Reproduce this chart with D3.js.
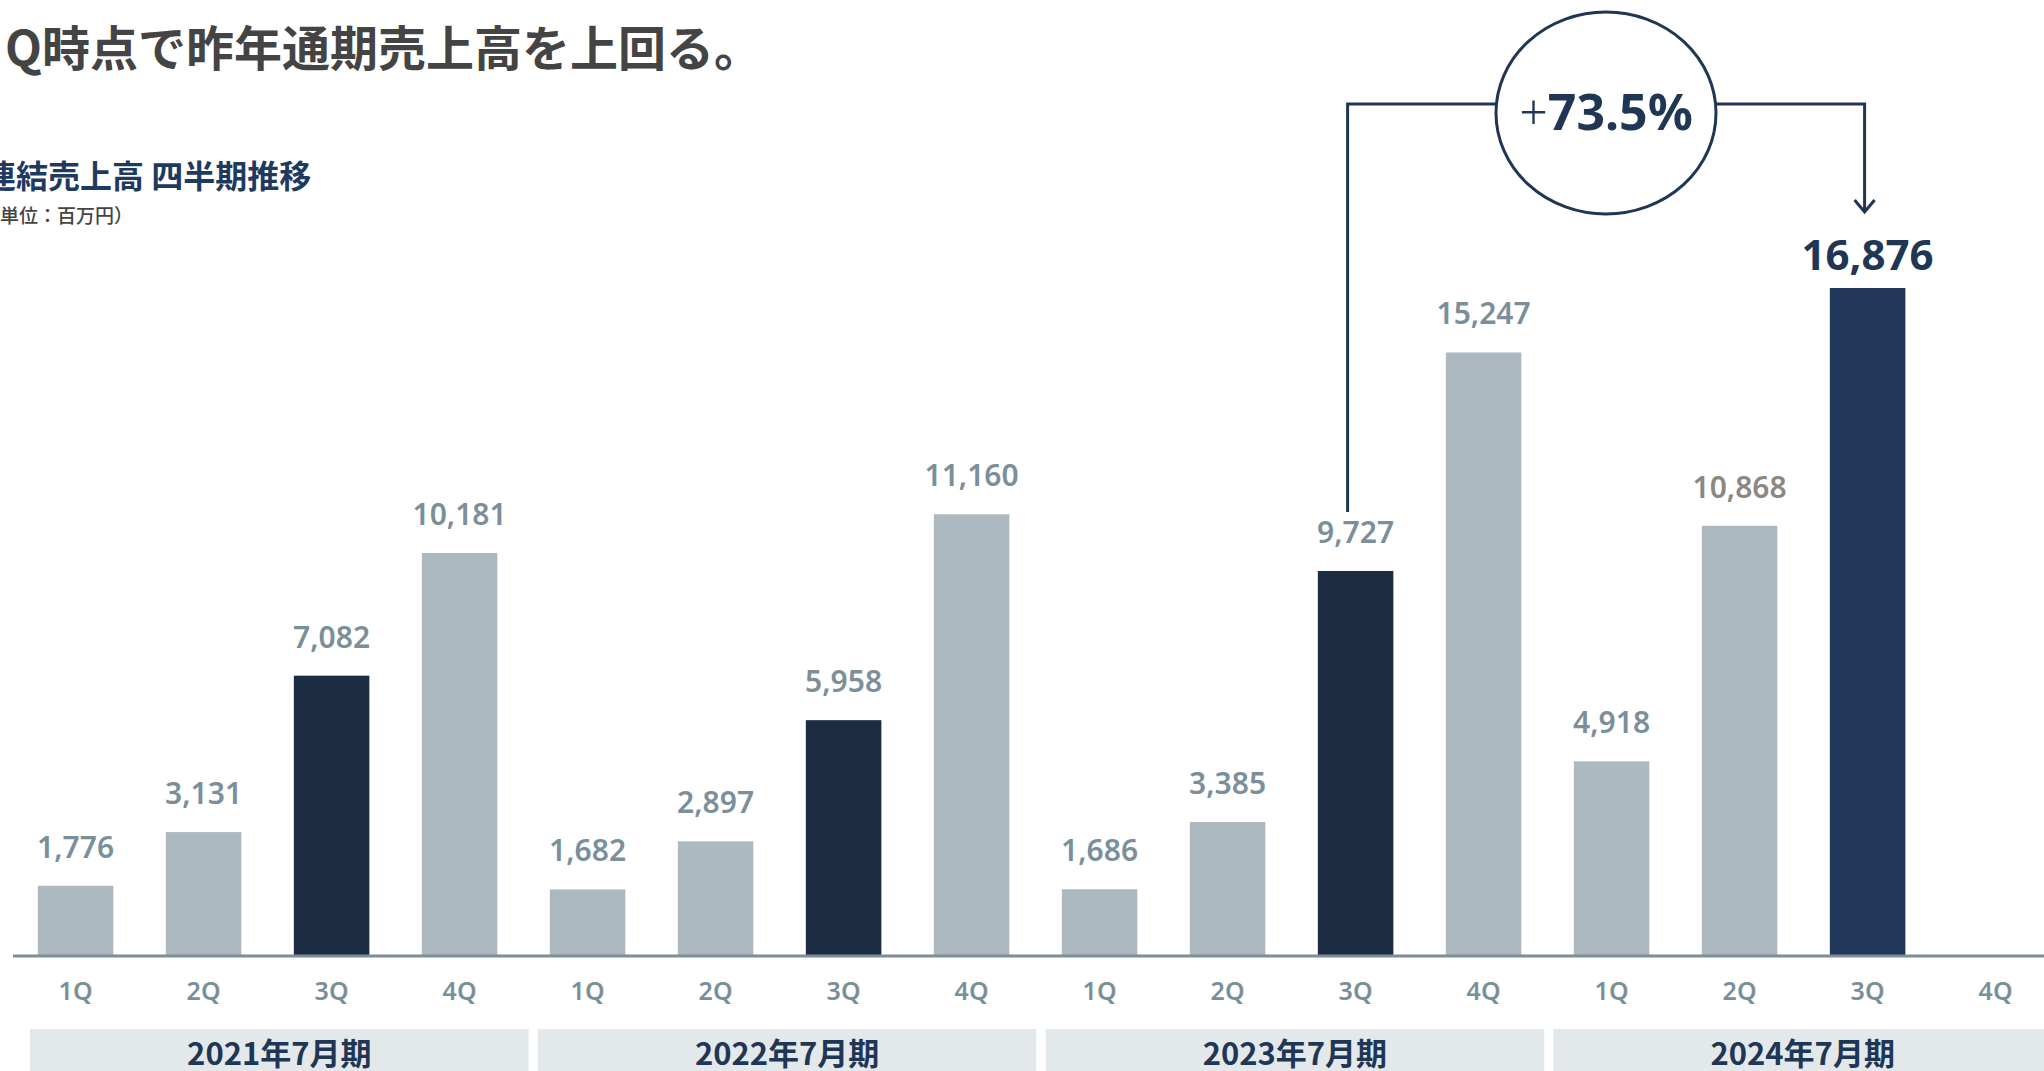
<!DOCTYPE html>
<html>
<head>
<meta charset="UTF-8">
<title>連結売上高 四半期推移</title>
<script src="https://d3js.org/d3.v7.min.js"></script>
<style>
  body { margin: 0; background: #fff; }
  svg { display: block; }
  .num { font-family: "Noto Sans", "Open Sans", sans-serif; font-weight: 600; }
  .jp { font-family: "Noto Sans CJK JP", "Noto Sans", sans-serif; }
</style>
</head>
<body>
<div id="chart"></div>
<script>
// chart values
var years = ["2021年7月期", "2022年7月期", "2023年7月期", "2024年7月期"];
var quarters = ["1Q", "2Q", "3Q", "4Q"];
var sales = [1776, 3131, 7082, 10181,
             1682, 2897, 5958, 11160,
             1686, 3385, 9727, 15247,
             4918, 10868, 16876, null];
var growthSign = "+";
var growthValue = "73.5%";
var fromIndex = 10, toIndex = 14;

var W = 2044, H = 1071;
var axisY = 956;

var rows = [];
years.forEach(function(yr, yi) {
  quarters.forEach(function(q, qi) {
    rows.push({ key: yr + q, year: yr, yi: yi, q: q, value: sales[yi * 4 + qi] });
  });
});

var svg = d3.select("#chart").append("svg")
  .attr("width", W)
  .attr("height", H);

var x = d3.scaleBand()
  .domain(rows.map(function(d) { return d.key; }))
  .range([11.6, 11.6 + 16 * 128])
  .paddingInner(0.41)
  .paddingOuter(0.205);

var y = d3.scaleLinear()
  .domain([0, 16876])
  .range([axisY, 288]);

var xYear = d3.scaleBand()
  .domain(years)
  .range([30, 2052])
  .paddingInner(0.018);

// headings
svg.append("text")
  .attr("class", "jp")
  .attr("x", 5).attr("y", 45)
  .attr("dominant-baseline", "central")
  .style("font-size", "48px").style("font-weight", 700)
  .attr("fill", "#444444")
  .text("Q時点で昨年通期売上高を上回る。");

svg.append("text")
  .attr("class", "jp")
  .attr("x", -16).attr("y", 174)
  .attr("dominant-baseline", "central")
  .style("font-size", "32px").style("font-weight", 700)
  .attr("fill", "#1f3a5f")
  .text("連結売上高 四半期推移");

svg.append("text")
  .attr("class", "jp")
  .attr("x", -19).attr("y", 214)
  .attr("dominant-baseline", "central")
  .style("font-size", "19px").style("font-weight", 500)
  .attr("fill", "#444444")
  .text("（単位：百万円）");

// bars
function barColor(d) {
  if (d.q !== "3Q") return "#adb9c1";
  return d.yi === 3 ? "#21385a" : "#1b2c43";
}

var data = rows.filter(function(d) { return d.value != null; });

svg.selectAll(".bar")
  .data(data)
  .enter().append("rect")
  .attr("class", "bar")
  .attr("x", function(d) { return x(d.key); })
  .attr("y", function(d) { return y(d.value); })
  .attr("width", x.bandwidth())
  .attr("height", function(d) { return axisY - y(d.value); })
  .attr("fill", barColor);

// value labels
svg.selectAll(".val")
  .data(data)
  .enter().append("text")
  .attr("class", "val num")
  .attr("x", function(d) { return x(d.key) + x.bandwidth() / 2; })
  .attr("y", function(d) { return y(d.value) - (d.value === 16876 ? 18 : 28); })
  .attr("text-anchor", "middle")
  .style("font-size", function(d) { return d.value === 16876 ? "42px" : "30px"; })
  .style("font-weight", function(d) { return d.value === 16876 ? 700 : 600; })
  .attr("fill", function(d) {
    if (d.value === 16876) return "#1f3655";
    if (d.value === 10868) return "#8c8782";
    return "#7b8f9b";
  })
  .text(function(d) { return d3.format(",")(d.value); });

// baseline
svg.append("line")
  .attr("x1", 13).attr("x2", W)
  .attr("y1", axisY).attr("y2", axisY)
  .attr("stroke", "#7d8e99")
  .attr("stroke-width", 3);

// quarter labels
svg.selectAll(".ql")
  .data(rows)
  .enter().append("text")
  .attr("class", "ql num")
  .attr("x", function(d) { return x(d.key) + x.bandwidth() / 2; })
  .attr("y", 1000)
  .attr("text-anchor", "middle")
  .style("font-size", "25px")
  .attr("fill", "#7b8f9b")
  .text(function(d) { return d.q; });

// year bands
svg.selectAll(".band")
  .data(years)
  .enter().append("rect")
  .attr("class", "band")
  .attr("x", function(d) { return xYear(d); })
  .attr("y", 1029)
  .attr("width", xYear.bandwidth())
  .attr("height", 60)
  .attr("fill", "#e3e8eb");

svg.selectAll(".yl")
  .data(years)
  .enter().append("text")
  .attr("class", "yl jp")
  .attr("x", function(d) { return xYear(d) + xYear.bandwidth() / 2; })
  .attr("y", 1051)
  .attr("dominant-baseline", "central")
  .attr("text-anchor", "middle")
  .style("font-size", "31px").style("font-weight", 700)
  .attr("fill", "#1f3655")
  .text(function(d) { return d; });

// growth annotation
var from = rows[fromIndex], to = rows[toIndex];
var fx = x(from.key) + x.bandwidth() / 2 - 8;
var tx = x(to.key) + x.bandwidth() / 2 - 3;
var topY = 104;
var cx = 1606, cy = 113, rx = 110, ry = 101;
var navy = "#1f3655";

svg.append("path")
  .attr("d", "M" + fx + "," + (y(from.value) - 59) + "V" + topY + "H" + (cx - rx))
  .attr("fill", "none").attr("stroke", navy).attr("stroke-width", 3);

svg.append("path")
  .attr("d", "M" + (cx + rx) + "," + topY + "H" + tx + "V" + (y(to.value) - 76))
  .attr("fill", "none").attr("stroke", navy).attr("stroke-width", 3);

svg.append("path")
  .attr("d", "M" + (tx - 10) + "," + (y(to.value) - 88) + "L" + tx + "," + (y(to.value) - 76) + "L" + (tx + 10) + "," + (y(to.value) - 88))
  .attr("fill", "none").attr("stroke", navy).attr("stroke-width", 3);

svg.append("ellipse")
  .attr("cx", cx).attr("cy", cy)
  .attr("rx", rx).attr("ry", ry)
  .attr("fill", "#fff").attr("stroke", navy).attr("stroke-width", 3);

var gt = svg.append("text")
  .attr("class", "num")
  .attr("x", cx).attr("y", cy + 17)
  .attr("text-anchor", "middle")
  .style("font-size", "50px")
  .attr("fill", navy);
gt.append("tspan").style("font-weight", 300).text(growthSign);
gt.append("tspan").style("font-weight", 700).text(growthValue);
</script>
</body>
</html>
